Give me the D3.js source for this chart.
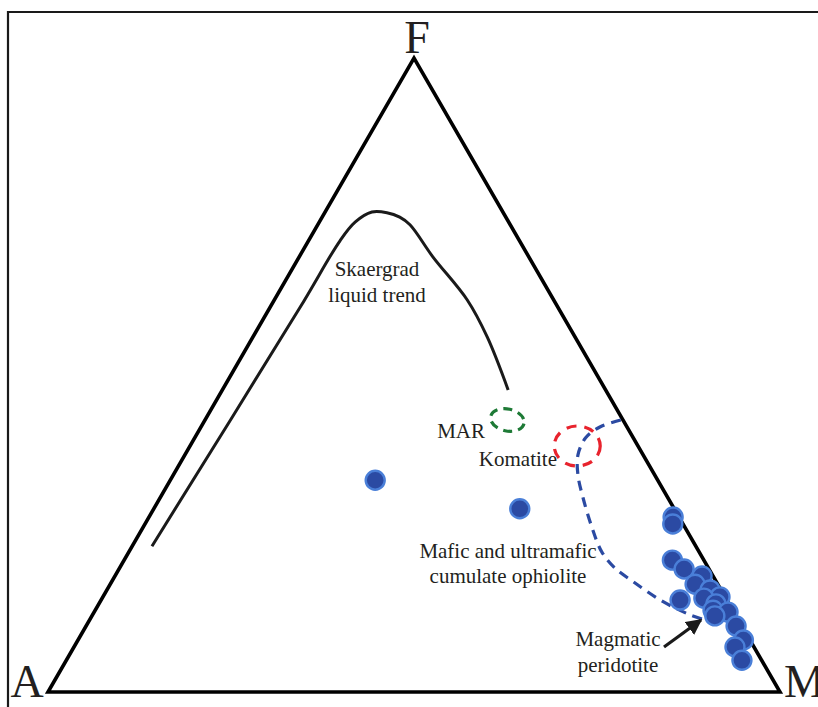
<!DOCTYPE html>
<html>
<head>
<meta charset="utf-8">
<script src="https://cdn.jsdelivr.net/npm/d3@7"></script>
<style>
  html, body { margin: 0; padding: 0; background: #fff; }
  svg { display: block; }
  text { font-family: "Liberation Serif", "Times New Roman", serif; fill: #231f20; }
</style>
</head>
<body>
<svg id="chart" width="818" height="707"></svg>
<script>
// AFM ternary diagram (A = alkalis, F = FeO total, M = MgO), compositions in %.
const vertexLabels = ["A", "F", "M"];

// Samples: [A, F, M]
const samplesA = [38.6, 21.1, 0.8, 1.4, 4.3, 3.4, 1.5, 3.1, 1.5, 0.7, 3.0, 6.4, 1.8, 2.7, 0.8, 2.9, 0.8, 0.9, 2.6, 2.7];
const samplesF = [33.4, 28.9, 27.6, 26.5, 20.8, 19.4, 18.3, 17.0, 16.1, 15.0, 14.8, 14.5, 13.9, 12.9, 12.6, 12.0, 10.4, 8.2, 7.1, 5.0];
const samplesM = [28.0, 50.0, 71.6, 72.1, 74.9, 77.2, 80.2, 79.9, 82.4, 84.3, 82.2, 79.1, 84.3, 84.4, 86.6, 85.1, 88.8, 90.9, 90.3, 92.3];

// Skaergaard liquid trend
const skaerA = [74.3, 35.3, 24.5, 21.0, 17.9, 15.9, 14.5, 13.7, 13.1, 11.8, 12.0, 13.3];
const skaerF = [23.0, 60.6, 71.1, 74.1, 75.7, 75.6, 74.9, 73.7, 68.6, 61.8, 56.0, 47.6];
const skaerM = [2.7, 4.1, 4.3, 4.9, 6.4, 8.5, 10.6, 12.6, 18.3, 26.3, 32.0, 39.0];

// Boundary of mafic and ultramafic cumulate ophiolite field
const ophA = [0.3, 3.7, 6.5, 8.9, 10.5, 11.6, 12.7, 13.3, 12.8, 11.2, 9.1, 6.4, 3.8];
const ophF = [42.9, 41.8, 40.1, 37.4, 34.2, 30.6, 26.0, 22.1, 19.6, 17.2, 14.5, 12.3, 11.0];
const ophM = [56.8, 54.5, 53.4, 53.7, 55.3, 57.8, 61.3, 64.6, 67.7, 71.6, 76.4, 81.3, 85.2];

// Field centres: MAR and komatiite
const fieldNames = ["MAR", "Komatite"];
const fieldA = [15.8, 8.3];
const fieldF = [42.9, 38.8];
const fieldM = [41.3, 52.9];

const svg = d3.select("#chart");

// Cartesian frame of the ternary plot
const xScale = d3.scaleLinear().domain([0, 1]).range([48, 780]);
const yScale = d3.scaleLinear().domain([0, 1]).range([692, 58]);

function project(a, f, m) {
  const s = a + f + m;
  const fn = f / s, mn = m / s;
  return [xScale(mn + fn / 2), yScale(fn)];
}
const zip = (A, F, M) => A.map((a, i) => project(a, F[i], M[i]));

// Outer frame
svg.append("path")
  .attr("d", "M8,720 L8,12 L830,12")
  .attr("fill", "none").attr("stroke", "#1a1a1a").attr("stroke-width", 2.2);

// Triangle
const corners = [project(100, 0, 0), project(0, 100, 0), project(0, 0, 100)];
svg.append("path")
  .attr("d", d3.line()(corners) + "Z")
  .attr("fill", "none").attr("stroke", "#000").attr("stroke-width", 3.6)
  .attr("stroke-linejoin", "miter");

// Vertex labels
svg.append("text").text(vertexLabels[1]).attr("x", corners[1][0] + 3).attr("y", 53)
  .attr("text-anchor", "middle").attr("font-size", 46);
svg.append("text").text(vertexLabels[0]).attr("x", 27).attr("y", 697)
  .attr("text-anchor", "middle").attr("font-size", 46);
svg.append("text").text(vertexLabels[2]).attr("x", 784).attr("y", 697)
  .attr("text-anchor", "start").attr("font-size", 46);

// Skaergaard trend
svg.append("path")
  .attr("d", d3.line().curve(d3.curveCatmullRom.alpha(0.5))(zip(skaerA, skaerF, skaerM)))
  .attr("fill", "none").attr("stroke", "#1a1a1a").attr("stroke-width", 3);

// Ophiolite boundary
svg.append("path")
  .attr("d", d3.line().curve(d3.curveCatmullRom.alpha(0.5))(zip(ophA, ophF, ophM)))
  .attr("fill", "none").attr("stroke", "#2b4aa2").attr("stroke-width", 3.2)
  .attr("stroke-dasharray", "10,7");

// MAR and komatiite fields
const fieldPts = zip(fieldA, fieldF, fieldM);
svg.append("ellipse")
  .attr("cx", fieldPts[0][0]).attr("cy", fieldPts[0][1])
  .attr("rx", 17).attr("ry", 11)
  .attr("transform", `rotate(12 ${fieldPts[0][0]} ${fieldPts[0][1]})`)
  .attr("fill", "none").attr("stroke", "#1e7a36").attr("stroke-width", 3.2)
  .attr("stroke-dasharray", "9,6");
svg.append("ellipse")
  .attr("cx", fieldPts[1][0]).attr("cy", fieldPts[1][1])
  .attr("rx", 23).attr("ry", 20)
  .attr("fill", "none").attr("stroke", "#e8232d").attr("stroke-width", 3.2)
  .attr("stroke-dasharray", "10,8");

// Samples
svg.append("g").selectAll("circle")
  .data(zip(samplesA, samplesF, samplesM))
  .join("circle")
  .attr("cx", d => d[0]).attr("cy", d => d[1]).attr("r", 9.5)
  .attr("fill", "#2b4aa3").attr("stroke", "#4a7fd8").attr("stroke-width", 2.4);

// Annotations
const labelSize = 21;
function multiline(lines, x, y, dy, anchor) {
  const t = svg.append("text").attr("x", x).attr("y", y)
    .attr("text-anchor", anchor).attr("font-size", labelSize);
  lines.forEach((s, i) => t.append("tspan").attr("x", x).attr("dy", i ? dy : 0).text(s));
}
multiline(["Skaergrad", "liquid trend"], 377, 276, 26, "middle");
multiline([fieldNames[0]], 485, 438, 0, "end");
multiline([fieldNames[1]], 557, 466, 0, "end");
multiline(["Mafic and ultramafic", "cumulate ophiolite"], 508, 558, 25, "middle");
multiline(["Magmatic", "peridotite"], 618, 646, 26, "middle");

// Arrow pointing to the peridotite cluster
svg.append("defs").append("marker")
  .attr("id", "head").attr("viewBox", "0 0 10 10").attr("refX", 9).attr("refY", 5)
  .attr("markerWidth", 5).attr("markerHeight", 5).attr("orient", "auto")
  .attr("markerUnits", "strokeWidth")
  .append("path").attr("d", "M0,0 L10,5 L0,10 Z").attr("fill", "#1a1a1a");
svg.append("line")
  .attr("x1", 664).attr("y1", 647).attr("x2", 701).attr("y2", 620)
  .attr("stroke", "#1a1a1a").attr("stroke-width", 3.2).attr("marker-end", "url(#head)");
</script>
</body>
</html>
